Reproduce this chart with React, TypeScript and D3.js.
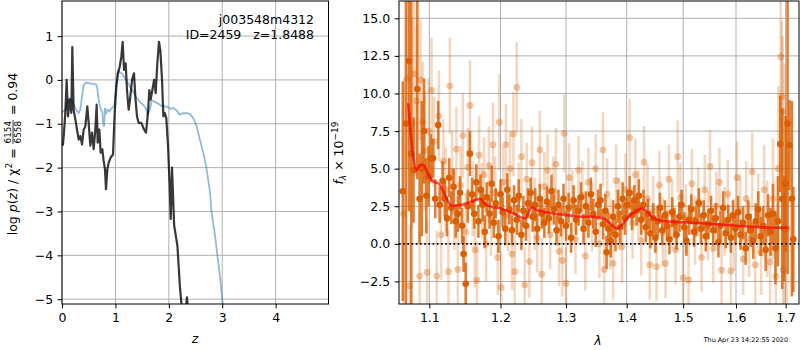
import React, { useEffect, useRef } from 'react';
import * as d3 from 'd3';

// ---- left panel: log p(z) (black) and chi2 curve (blue)
const pzZ = [0, 0.019, 0.037, 0.062, 0.087, 0.112, 0.143, 0.175, 0.193, 0.218, 0.25, 0.281, 0.312, 0.343, 0.375, 0.406, 0.437, 0.474, 0.499, 0.53, 0.562, 0.593, 0.624, 0.649, 0.668, 0.699, 0.724, 0.755, 0.78, 0.805, 0.824, 0.849, 0.874, 0.911, 0.955, 0.986, 1.017, 1.049, 1.08, 1.111, 1.136, 1.161, 1.192, 1.217, 1.248, 1.28, 1.311, 1.348, 1.373, 1.404, 1.435, 1.486, 1.536, 1.573, 1.61, 1.635, 1.66, 1.692, 1.723, 1.754, 1.785, 1.816, 1.841, 1.873, 1.897, 1.923, 1.953, 1.985, 2.016, 2.036, 2.06, 2.1, 2.16, 2.21, 2.24, 2.3, 2.34, 2.37, 2.45];
const pzLog = [-1.5, -1.47, -1.2, -0.75, 0.0, -0.83, -0.45, -0.75, 0.75, -0.68, -0.9, -1.13, -1.36, -1.28, -1.47, -1.13, -1.06, -0.6, -0.98, -1.5, -1.2, -1.58, -1.13, -0.56, -1.43, -1.13, -1.66, -1.58, -1.85, -2.04, -2.49, -2.04, -1.89, -1.77, -1.7, -0.75, -0.15, 0.15, 0.3, 0.53, 0.87, 0.23, 0.38, -0.23, -0.68, -0.38, 0, 0.15, -0.38, -0.83, -0.98, -0.98, -1.13, -1.2, -0.75, -0.23, -0.45, -0.23, 0, -0.3, 0.38, 0.87, 0.68, 0, -0.83, -0.75, -0.87, -1.5, -2.41, -3.17, -2.0, -3.32, -3.77, -4.75, -5.15, -5.4, -4.96, -5.4, -6.5];

const chiZ = [0, 0.019, 0.062, 0.112, 0.15, 0.19, 0.262, 0.31, 0.343, 0.375, 0.406, 0.456, 0.518, 0.58, 0.637, 0.66, 0.693, 0.73, 0.755, 0.768, 0.787, 0.805, 0.83, 0.86, 0.89, 0.92, 0.95, 0.98, 1.0, 1.03, 1.05, 1.09, 1.12, 1.16, 1.2, 1.24, 1.29, 1.33, 1.38, 1.46, 1.52, 1.57, 1.6, 1.645, 1.68, 1.74, 1.8, 1.86, 1.92, 1.98, 2.04, 2.09, 2.15, 2.2, 2.27, 2.34, 2.4, 2.46, 2.52, 2.58, 2.65, 2.71, 2.77, 2.8, 2.86, 2.91, 2.96, 3.0, 3.03];
const chiLog = [-0.75, -0.72, -0.68, -0.45, -0.42, -0.5, -0.68, -0.75, -0.68, -0.38, -0.11, -0.06, -0.08, -0.09, -0.1, -0.19, -0.5, -0.68, -0.72, -0.98, -1.06, -0.64, -0.75, -0.68, -0.72, -0.66, -0.62, -0.6, -0.3, 0.15, 0.21, 0.17, 0.15, 0.08, 0, -0.08, -0.19, -0.26, -0.38, -0.5, -0.57, -0.64, -0.79, -0.68, -0.47, -0.5, -0.54, -0.59, -0.6, -0.62, -0.66, -0.64, -0.7, -0.79, -0.76, -0.76, -0.78, -0.88, -1.05, -1.35, -1.68, -2.05, -2.55, -3.0, -3.5, -4.0, -4.5, -5.0, -5.3];

const zTicks = [0, 1, 2, 3, 4];
const logTicks = [-5, -4, -3, -2, -1, 0, 1];

// ---- right panel: spectrum points
const darkLam = [1.065, 1.069, 1.073, 1.076, 1.079, 1.084, 1.087, 1.09, 1.093, 1.096, 1.099, 1.102, 1.105, 1.108, 1.112, 1.114, 1.118, 1.121, 1.124, 1.127, 1.13, 1.133, 1.136, 1.139, 1.142, 1.145, 1.147, 1.15, 1.153, 1.156, 1.159, 1.162, 1.165, 1.168, 1.171, 1.174, 1.177, 1.18, 1.184, 1.187, 1.19, 1.193, 1.197, 1.2, 1.203, 1.207, 1.21, 1.213, 1.217, 1.22, 1.224, 1.227, 1.231, 1.234, 1.238, 1.241, 1.245, 1.248, 1.252, 1.255, 1.259, 1.262, 1.266, 1.27, 1.273, 1.277, 1.281, 1.285, 1.288, 1.292, 1.296, 1.3, 1.304, 1.308, 1.312, 1.316, 1.32, 1.324, 1.328, 1.332, 1.336, 1.34, 1.344, 1.348, 1.352, 1.356, 1.36, 1.364, 1.366, 1.369, 1.373, 1.377, 1.381, 1.385, 1.389, 1.393, 1.397, 1.401, 1.405, 1.409, 1.413, 1.417, 1.421, 1.425, 1.429, 1.433, 1.437, 1.441, 1.446, 1.45, 1.454, 1.458, 1.462, 1.467, 1.471, 1.475, 1.48, 1.484, 1.488, 1.493, 1.497, 1.502, 1.506, 1.511, 1.515, 1.52, 1.524, 1.529, 1.533, 1.538, 1.542, 1.547, 1.552, 1.556, 1.561, 1.566, 1.57, 1.575, 1.58, 1.585, 1.59, 1.594, 1.599, 1.604, 1.609, 1.614, 1.619, 1.624, 1.629, 1.634, 1.639, 1.644, 1.649, 1.654, 1.659, 1.664, 1.669, 1.674, 1.679, 1.684, 1.689, 1.693, 1.697, 1.7, 1.704, 1.708, 1.713, 1.716];
const darkFlux = [3.5, 8, 12.16, 6, 4.9, 10.3, 3.0, 5.0, 7.5, 3.2, 4.5, 5.7, 5.69, 3.0, 7.9, 2.6, 4.2, 3.0, 1.7, 4.4, 2.4, 3.8, 1.5, 2.0, 3.4, 1.2, -0.67, -2.65, 2.5, 6.0, 3.3, 2.0, 4.1, 1.5, 3.6, 2.6, 0.8, 3.1, 2.0, 4.0, 1.4, 2.7, 0.5, 3.3, 2.1, 1.0, 3.6, 2.3, 0.9, 2.9, 1.6, 3.2, 0.6, 2.2, 1.2, 2.7, 3.4, 1.8, 2.6, 1.0, 3.0, 2.0, 1.4, 2.8, 1.7, 3.5, 2.3, 0.9, 2.6, 1.5, 3.0, 1.2, 2.4, 0.4, 2.9, 1.6, 2.2, 3.1, 1.0, 2.5, 1.4, 3.3, 2.0, 0.8, 2.6, 2.9, 1.3, 2.2, -0.56, 1.0, 0.2, 1.8, 0.6, 2.5, 1.1, 3.0, 1.7, 2.6, 3.4, 1.9, 2.9, 2.2, 3.2, 1.6, 2.6, 1.1, 2.0, 0.7, 1.7, 0.4, 1.5, 2.4, 0.9, 1.9, 1.2, 0.3, 2.1, 1.4, 0.6, 1.8, 2.6, 1.1, 0.2, 1.6, 2.3, 0.8, 1.5, 2.7, 1.0, 1.9, 0.5, 1.3, 2.2, 0.9, 1.7, 0.1, 1.2, 2.4, 0.7, 1.6, 0.4, 1.9, 1.0, 2.1, 0.6, 1.4, -0.3, 1.8, 0.9, 0.2, 1.5, 2.3, 0.5, 1.2, -0.4, 1.9, 0.8, 2.0, -0.3, 1.5, 6.64, 3.0, 1.0, 4.0, 8.0, 6.57, 3.0, 0.3];
const darkErr = [7.3, 14, 10, 12, 3.5, 6, 3.0, 4.5, 3.5, 2.5, 2.0, 1.6, 1.3, 1.3, 1.6, 1.2, 1.3, 1.2, 1.2, 1.3, 1.1, 1.2, 1.1, 1.2, 1.1, 1.2, 1.2, 1.4, 1.1, 1.5, 1.1, 1.0, 1.2, 1.1, 1.0, 1.1, 1.1, 1.0, 1.0, 1.2, 1.0, 1.0, 1.1, 1.0, 1.0, 1.1, 1.1, 1.0, 1.0, 1.0, 1.0, 1.1, 1.0, 1.0, 1.0, 1.0, 1.0, 1.0, 1.1, 1.0, 1.0, 1.0, 1.0, 1.0, 1.0, 1.1, 1.0, 1.0, 1.0, 1.0, 1.0, 1.0, 1.0, 1.0, 1.0, 1.0, 1.0, 1.0, 1.0, 1.0, 1.0, 1.1, 1.0, 1.0, 1.0, 1.1, 1.0, 1.1, 1.1, 1.1, 1.1, 1.1, 1.1, 1.1, 1.1, 1.1, 1.1, 1.0, 1.1, 1.0, 1.0, 1.0, 1.1, 1.0, 1.0, 1.0, 1.0, 1.0, 1.0, 1.0, 1.0, 1.0, 1.0, 1.0, 1.0, 1.0, 1.0, 1.0, 1.0, 1.0, 1.0, 1.0, 1.0, 1.0, 1.0, 1.0, 1.0, 1.0, 1.0, 1.0, 1.0, 1.0, 1.0, 1.0, 1.0, 1.0, 1.0, 1.1, 1.0, 1.0, 1.0, 1.0, 1.0, 1.1, 1.0, 1.1, 1.1, 1.1, 1.1, 1.2, 1.2, 1.2, 1.3, 1.3, 1.4, 1.4, 1.6, 2.0, 2.4, 3.0, 3.2, 6, 3.5, 4.5, 10, 3.0, 6.5, 3.5];

const lightLam = [1.066, 1.071, 1.074, 1.077, 1.08, 1.083, 1.087, 1.088, 1.091, 1.094, 1.097, 1.099, 1.103, 1.106, 1.11, 1.113, 1.116, 1.119, 1.122, 1.126, 1.128, 1.131, 1.134, 1.137, 1.139, 1.143, 1.146, 1.15, 1.153, 1.156, 1.16, 1.163, 1.166, 1.169, 1.173, 1.176, 1.179, 1.183, 1.186, 1.189, 1.192, 1.196, 1.198, 1.201, 1.204, 1.208, 1.211, 1.214, 1.217, 1.219, 1.221, 1.224, 1.227, 1.231, 1.236, 1.239, 1.243, 1.247, 1.251, 1.255, 1.259, 1.262, 1.266, 1.271, 1.275, 1.28, 1.284, 1.289, 1.294, 1.297, 1.3, 1.305, 1.31, 1.315, 1.32, 1.326, 1.331, 1.336, 1.342, 1.348, 1.354, 1.36, 1.362, 1.367, 1.372, 1.377, 1.382, 1.387, 1.392, 1.398, 1.405, 1.41, 1.415, 1.42, 1.425, 1.43, 1.436, 1.44, 1.446, 1.452, 1.457, 1.463, 1.468, 1.474, 1.48, 1.486, 1.49, 1.495, 1.5, 1.505, 1.51, 1.516, 1.522, 1.528, 1.534, 1.54, 1.546, 1.55, 1.556, 1.562, 1.568, 1.572, 1.578, 1.584, 1.59, 1.596, 1.602, 1.608, 1.614, 1.62, 1.626, 1.632, 1.638, 1.644, 1.65, 1.656, 1.662, 1.668, 1.674, 1.68, 1.685, 1.69, 1.692, 1.694, 1.695, 1.698, 1.703];
const lightFlux = [2.0, 11.0, -2.8, 8.0, 11.3, 9.5, -2.14, 10.9, 8.1, 6.2, -1.9, 7.5, 10.2, 6.8, -2.14, 8.5, 0.6, 5.5, 3.6, -1.85, 10.5, 4.8, 2.2, 6.3, -1.7, 3.9, 7.2, 0.8, 5.1, 9.2, 3.0, -0.4, -2.43, 5.9, 2.9, 4.6, 0.0, 5.2, 1.6, 6.58, 3.4, -0.9, 8.1, -2.9, 4.1, 6.6, 1.9, 5.0, -0.68, 7.3, -1.85, 10.4, 3.0, 5.8, -2.73, 4.3, -1.18, 5.4, 2.0, 0.4, 6.25, -2.02, 3.8, 4.9, 0.6, 3.5, 5.3, -0.5, -1.1, 7.35, -2.62, 4.4, 2.6, 0.3, 4.9, 3.2, -0.8, 4.1, 1.8, 5.0, 0.0, 6.25, -1.7, 3.3, 0.7, -1.3, 4.2, 2.0, -0.2, 3.6, 7.06, 1.4, 4.6, 2.6, 0.2, 5.43, 3.0, -1.4, 2.2, -1.52, 3.9, 0.8, -1.3, 4.3, 2.0, -0.4, 5.8, 3.1, -2.25, 1.7, -2.4, 4.0, 0.9, 2.8, -0.9, 3.6, 1.2, 5.15, -0.3, 2.5, 4.1, -1.74, 1.5, 3.3, -1.8, 0.6, 4.4, 2.2, -1.0, 3.0, 0.3, 4.8, -1.4, 2.0, -0.6, 3.6, 1.0, -1.2, 3.0, -2.17, 5.0, 12.45, 9.8, 8.8, -1.74, 4.0, 1.0];
const lightErr = [9, 6, 4, 7, 5, 5, 3, 4, 4, 4, 3.5, 3.5, 3.5, 3, 3, 3, 3, 2.8, 2.8, 2.8, 3.2, 2.7, 2.6, 2.8, 2.6, 2.6, 2.8, 2.6, 2.6, 3.0, 2.5, 2.5, 2.6, 2.6, 2.5, 2.5, 2.5, 2.6, 2.4, 2.8, 2.4, 2.5, 3.2, 2.4, 2.4, 2.7, 2.4, 2.5, 2.4, 2.8, 2.4, 3.0, 2.4, 2.5, 2.5, 2.4, 2.4, 2.4, 2.4, 2.3, 2.6, 2.4, 2.3, 2.4, 2.3, 2.3, 2.4, 2.3, 2.4, 2.6, 2.4, 2.3, 2.3, 2.3, 2.3, 2.3, 2.3, 2.3, 2.3, 2.3, 2.3, 2.5, 2.4, 2.4, 2.4, 2.4, 2.4, 2.4, 2.4, 2.4, 2.6, 2.4, 2.4, 2.3, 2.3, 2.4, 2.3, 2.3, 2.3, 2.3, 2.3, 2.3, 2.3, 2.3, 2.3, 2.3, 2.4, 2.3, 2.4, 2.3, 2.4, 2.3, 2.3, 2.3, 2.3, 2.3, 2.3, 2.4, 2.3, 2.3, 2.3, 2.4, 2.3, 2.3, 2.4, 2.4, 2.4, 2.4, 2.4, 2.5, 2.5, 2.6, 2.6, 2.7, 2.8, 3.0, 3.2, 3.6, 4.0, 4.5, 5.5, 6.0, 5.0, 5.0, 6.0, 8.0, 5.0];

// best-fit model
const modelLam = [1.072, 1.0744, 1.0787, 1.0832, 1.0876, 1.092, 1.0987, 1.1054, 1.1122, 1.1213, 1.1305, 1.142, 1.1562, 1.1703, 1.18, 1.1993, 1.219, 1.2365, 1.2467, 1.2543, 1.2645, 1.28, 1.3012, 1.3225, 1.3442, 1.361, 1.372, 1.3833, 1.3918, 1.4031, 1.4146, 1.4263, 1.435, 1.4465, 1.4644, 1.5069, 1.5695, 1.6347, 1.675, 1.706];
const modelFlux = [9.35, 7.8, 5.8, 4.9, 5.25, 5.25, 4.6, 4.14, 4.03, 3.25, 2.53, 2.58, 2.76, 2.98, 2.58, 2.36, 2.02, 1.69, 2.43, 2.25, 2.14, 2.02, 1.91, 1.8, 1.8, 1.69, 1.36, 1.02, 1.25, 1.8, 2.14, 2.36, 2.14, 1.69, 1.51, 1.42, 1.29, 1.13, 1.07, 1.07];

const lamTicks = [1.1, 1.2, 1.3, 1.4, 1.5, 1.6, 1.7];
const fluxTicks = [-2.5, 0, 2.5, 5, 7.5, 10, 12.5, 15];

const objName = 'j003548m4312';
const idLine = 'ID=2459   z=1.8488';
const stamp = 'Thu Apr 23 14:22:55 2020';

const FONT = "'DejaVu Sans', sans-serif";
const ORANGE = '#d95f02';

function frame(g, box, x, y, xTicks, yTicks, xFmt, yFmt) {
  // grid
  g.append('g').selectAll('line').data(xTicks).join('line')
    .attr('x1', d => x(d)).attr('x2', d => x(d))
    .attr('y1', box.y0).attr('y2', box.y1)
    .attr('stroke', '#b0b0b0').attr('stroke-width', 1);
  g.append('g').selectAll('line').data(yTicks).join('line')
    .attr('y1', d => y(d)).attr('y2', d => y(d))
    .attr('x1', box.x0).attr('x2', box.x1)
    .attr('stroke', '#b0b0b0').attr('stroke-width', 1);
}

function axes(g, box, x, y, xTicks, yTicks, xFmt, yFmt) {
  const ax = g.append('g').attr('transform', `translate(0,${box.y1})`)
    .call(d3.axisBottom(x).tickValues(xTicks).tickFormat(xFmt).tickSize(4.4).tickSizeOuter(0).tickPadding(4.4));
  const ay = g.append('g').attr('transform', `translate(${box.x0},0)`)
    .call(d3.axisLeft(y).tickValues(yTicks).tickFormat(yFmt).tickSize(4.4).tickSizeOuter(0).tickPadding(4.4));
  [ax, ay].forEach(a => {
    a.select('.domain').remove();
    a.attr('font-size', 12.5).attr('font-family', FONT);
    a.selectAll('text').attr('fill', '#000');
    a.selectAll('line').attr('stroke', '#000').attr('stroke-width', 1);
  });
  g.append('rect')
    .attr('x', box.x0).attr('y', box.y0)
    .attr('width', box.x1 - box.x0).attr('height', box.y1 - box.y0)
    .attr('fill', 'none').attr('stroke', '#000').attr('stroke-width', 1);
}

function drawChart(el) {
  const svg = d3.select(el);
  svg.selectAll('*').remove();
  const defs = svg.append('defs');

  // ---------------- left panel
  const bL = { x0: 62, x1: 328.5, y0: 1, y1: 304 };
  const xz = d3.scaleLinear().domain([0, 4.99]).range([bL.x0, bL.x1]);
  const yp = d3.scaleLinear().domain([-5.11, 1.8]).range([bL.y1, bL.y0]);
  defs.append('clipPath').attr('id', 'clipL').append('rect')
    .attr('x', bL.x0).attr('y', bL.y0).attr('width', bL.x1 - bL.x0).attr('height', bL.y1 - bL.y0);

  const gL = svg.append('g');
  frame(gL, bL, xz, yp, zTicks, logTicks);
  const plotL = gL.append('g').attr('clip-path', 'url(#clipL)');

  plotL.append('path').datum(chiLog)
    .attr('d', d3.line().x((_, i) => xz(chiZ[i])).y(d => yp(d)))
    .attr('fill', 'none').attr('stroke', '#1f77b4').attr('stroke-opacity', 0.5).attr('stroke-width', 1.8);
  plotL.append('path').datum(pzLog)
    .attr('d', d3.line().x((_, i) => xz(pzZ[i])).y(d => yp(d)))
    .attr('fill', 'none').attr('stroke', '#000').attr('stroke-opacity', 0.78)
    .attr('stroke-width', 2.2).attr('stroke-linejoin', 'round');

  axes(gL, bL, xz, yp, zTicks, logTicks, d3.format('d'), d3.format('d'));

  gL.append('text').attr('x', 314).attr('y', 24).attr('text-anchor', 'end')
    .attr('font-family', FONT).attr('font-size', 12.5).text(objName);
  gL.append('text').attr('x', 314).attr('y', 38.5).attr('text-anchor', 'end')
    .attr('font-family', FONT).attr('font-size', 12.5).style('white-space', 'pre').text(idLine);

  gL.append('text').attr('x', xz(2.49)).attr('y', 343).attr('text-anchor', 'middle')
    .attr('font-family', FONT).attr('font-size', 12.5).attr('font-style', 'italic').text('z');

  // y label: log p(z) / chi^2 = num/den = 0.94
  const lab = gL.append('g').attr('transform', 'translate(17,154) rotate(-90)')
    .attr('font-family', FONT).attr('font-size', 12.5);
  const inner = lab.append('g');
  const t1 = inner.append('text').style('white-space', 'pre');
  t1.append('tspan').text('log ');
  t1.append('tspan').attr('font-style', 'italic').text('p');
  t1.append('tspan').text('(');
  t1.append('tspan').attr('font-style', 'italic').text('z');
  t1.append('tspan').text(') / χ');
  t1.append('tspan').attr('font-size', 9).attr('dy', -5).text('2');
  t1.append('tspan').attr('dy', 5).text(' = ');
  const L1 = t1.node().getComputedTextLength();
  const num = inner.append('text').attr('x', L1 + 1).attr('y', -5.6).attr('font-size', 8.8).text('6154');
  const den = inner.append('text').attr('x', L1 + 1).attr('y', 3.6).attr('font-size', 8.8).text('6558');
  const fw = Math.max(num.node().getComputedTextLength(), den.node().getComputedTextLength()) + 2;
  inner.append('line').attr('x1', L1 + 0.5).attr('x2', L1 + fw).attr('y1', -4).attr('y2', -4)
    .attr('stroke', '#000').attr('stroke-width', 0.8);
  const t3 = inner.append('text').attr('x', L1 + fw + 1).style('white-space', 'pre').text(' = 0.94');
  const total = L1 + fw + 1 + t3.node().getComputedTextLength();
  inner.attr('transform', `translate(${-total / 2},0)`);

  // ---------------- right panel
  const bR = { x0: 399, x1: 799, y0: 1, y1: 304 };
  const xl = d3.scaleLog().domain([1.06, 1.728]).range([bR.x0, bR.x1]);
  const yf = d3.scaleLinear().domain([-4, 16.15]).range([bR.y1, bR.y0]);
  defs.append('clipPath').attr('id', 'clipR').append('rect')
    .attr('x', bR.x0).attr('y', bR.y0).attr('width', bR.x1 - bR.x0).attr('height', bR.y1 - bR.y0);

  const gR = svg.append('g');
  frame(gR, bR, xl, yf, lamTicks, fluxTicks);
  const plotR = gR.append('g').attr('clip-path', 'url(#clipR)');

  const lightIdx = d3.range(lightLam.length);
  plotR.append('g').selectAll('line').data(lightIdx).join('line')
    .attr('x1', i => xl(lightLam[i])).attr('x2', i => xl(lightLam[i]))
    .attr('y1', i => yf(lightFlux[i] - lightErr[i])).attr('y2', i => yf(lightFlux[i] + lightErr[i]))
    .attr('stroke', ORANGE).attr('stroke-opacity', 0.25).attr('stroke-width', 2.6);
  plotR.append('g').selectAll('circle').data(lightIdx).join('circle')
    .attr('cx', i => xl(lightLam[i])).attr('cy', i => yf(lightFlux[i])).attr('r', 3.4)
    .attr('fill', ORANGE).attr('fill-opacity', 0.35);

  const darkIdx = d3.range(darkLam.length);
  plotR.append('g').selectAll('line').data(darkIdx).join('line')
    .attr('x1', i => xl(darkLam[i])).attr('x2', i => xl(darkLam[i]))
    .attr('y1', i => yf(darkFlux[i] - darkErr[i])).attr('y2', i => yf(darkFlux[i] + darkErr[i]))
    .attr('stroke', ORANGE).attr('stroke-opacity', 0.8).attr('stroke-width', 2.6);
  plotR.append('g').selectAll('circle').data(darkIdx).join('circle')
    .attr('cx', i => xl(darkLam[i])).attr('cy', i => yf(darkFlux[i])).attr('r', 3.3)
    .attr('fill', ORANGE);

  plotR.append('path').datum(modelFlux)
    .attr('d', d3.line().x((_, i) => xl(modelLam[i])).y(d => yf(d)).curve(d3.curveMonotoneX))
    .attr('fill', 'none').attr('stroke', 'red').attr('stroke-opacity', 0.7).attr('stroke-width', 2.6);

  plotR.append('line').attr('x1', bR.x0).attr('x2', bR.x1).attr('y1', yf(0)).attr('y2', yf(0))
    .attr('stroke', '#000').attr('stroke-width', 1.6).attr('stroke-dasharray', '1.6,2.6');

  axes(gR, bR, xl, yf, lamTicks, fluxTicks, d3.format('.1f'), d3.format('.1f'));

  gR.append('text').attr('x', 598).attr('y', 344.5).attr('text-anchor', 'middle')
    .attr('font-family', FONT).attr('font-size', 12.5).attr('font-style', 'italic').text('λ');

  const ylab = gR.append('text').attr('transform', 'translate(343,153) rotate(-90)')
    .attr('text-anchor', 'middle').attr('font-family', FONT).attr('font-size', 12.5);
  ylab.append('tspan').attr('font-style', 'italic').text('f');
  ylab.append('tspan').attr('font-size', 9).attr('font-style', 'italic').attr('dy', 3).text('λ');
  ylab.append('tspan').attr('dy', -3).style('white-space', 'pre').text(' × 10');
  ylab.append('tspan').attr('font-size', 9).attr('dy', -5.5).text('−19');

  svg.append('text').attr('x', 788).attr('y', 342).attr('text-anchor', 'end')
    .attr('font-family', FONT).attr('font-size', 6.4).text(stamp);
}

export default function App() {
  const ref = useRef(null);

  useEffect(() => {
    document.body.style.margin = '0';
    if (ref.current) drawChart(ref.current);
  }, []);

  return (
    <svg ref={ref} width={800} height={350} style={{ display: 'block', background: '#fff' }} />
  );
}
